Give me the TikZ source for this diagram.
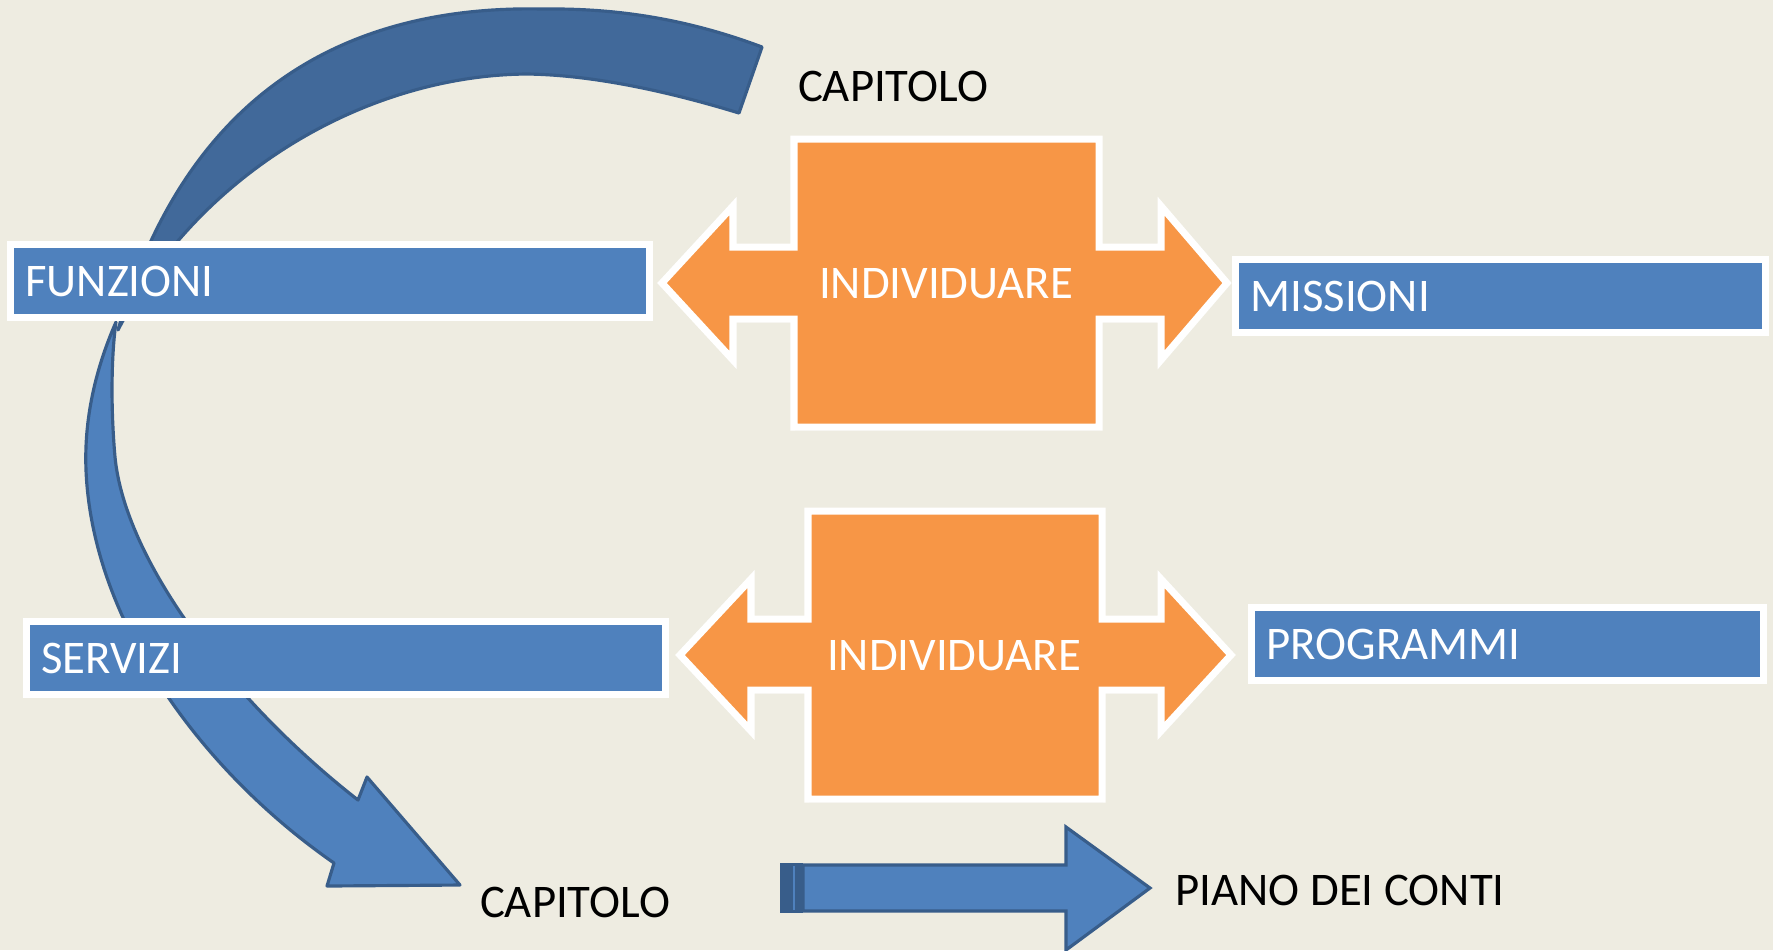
\documentclass[tikz,border=0pt]{standalone}
\usepackage{fontspec}
\setmainfont{Carlito}
\usetikzlibrary{shadows}
\definecolor{SlideBg}{HTML}{EEECE1}
\definecolor{BoxBlue}{HTML}{4F81BD}
\definecolor{ArcBlue}{HTML}{41699A}
\definecolor{EdgeBlue}{HTML}{385D8A}
\definecolor{CallOrange}{HTML}{F79646}

\begin{document}
\begin{tikzpicture}[
    x=0.01cm,y=-0.01cm,
    font=\fontsize{13.3}{16}\selectfont,
    lbl/.style={draw=white,fill=BoxBlue,line width=2pt,text=white,align=left,minimum height=0.73cm,inner xsep=0.15cm,
      drop shadow={shadow xshift=0.3pt,shadow yshift=-0.9pt,opacity=0.35}},
    callout/.style={draw=white,fill=CallOrange,line width=2pt,
      drop shadow={shadow xshift=0.3pt,shadow yshift=-0.9pt,opacity=0.35}},
    blockarrow/.style={draw=EdgeBlue,fill=BoxBlue,line width=0.9pt,line join=round},
    word/.style={inner sep=0pt}
  ]
  \clip (0,0) rectangle (1773,950);
  \fill[SlideBg] (0,0) rectangle (1773,950);

  % curved arrow: back band on top, front band with the head
  \draw[blockarrow,fill=ArcBlue] (762,47) .. controls (690,20) and (620,8) .. (543,9)
    .. controls (360,5) and (190,80) .. (118,330)
    .. controls (200,170) and (370,75) .. (527,74)
    .. controls (600,75) and (680,95) .. (739,113) -- cycle;
  \draw[blockarrow] (116,322) .. controls (95,370) and (84,420) .. (86,470)
    .. controls (92,620) and (200,770) .. (334,863)
    -- (327,886) -- (460,885) -- (367,777) -- (358,800)
    .. controls (230,700) and (125,560) .. (115,457)
    .. controls (110,400) and (112,350) .. (116,322) -- cycle;

  % left boxes
  \node[lbl,text width=6.09cm] (funzioni) at (330,281) {FUNZIONI};
  \node[lbl,text width=6.09cm] (servizi) at (346,658) {SERVIZI};

  % two-way callouts
  \draw[callout] (794,139) -- (1099,139) -- (1099,247) -- (1161,247) -- (1161,206) -- (1227,283)
    -- (1161,360) -- (1161,319) -- (1099,319) -- (1099,427) -- (794,427) -- (794,319)
    -- (733,319) -- (733,360) -- (662,283) -- (733,206) -- (733,247) -- (794,247) -- cycle;
  \node[word,text=white] (indiv1) at (946,284) {INDIVIDUARE};

  \draw[callout] (808,511) -- (1102,511) -- (1102,619) -- (1161,619) -- (1161,579) -- (1231,655)
    -- (1161,731) -- (1161,690) -- (1102,690) -- (1102,799) -- (808,799) -- (808,690)
    -- (751,690) -- (751,731) -- (680,655) -- (751,579) -- (751,619) -- (808,619) -- cycle;
  \node[word,text=white] (indiv2) at (954,656) {INDIVIDUARE};

  % right boxes
  \node[lbl,text width=5.0cm] (missioni) at (1500.5,296) {MISSIONI};
  \node[lbl,text width=4.82cm] (programmi) at (1507.5,644) {PROGRAMMI};

  % plain labels
  \node[word] (capsu) at (893,86) {CAPITOLO};
  \node[word] (capgiu) at (575,902) {CAPITOLO};
  \node[word] (piano) at (1340,890) {PIANO DEI CONTI};

  % striped arrow towards the chart of accounts
  \fill[EdgeBlue] (780,863) rectangle (803,913);
  \draw[BoxBlue,line width=0.5pt] (794,866) -- (794,910);
  \draw[blockarrow,line join=miter] (803,865) -- (1066,865) -- (1066,827) -- (1150,888)
    -- (1066,950) -- (1066,911) -- (803,911) -- cycle;
\end{tikzpicture}
\end{document}
